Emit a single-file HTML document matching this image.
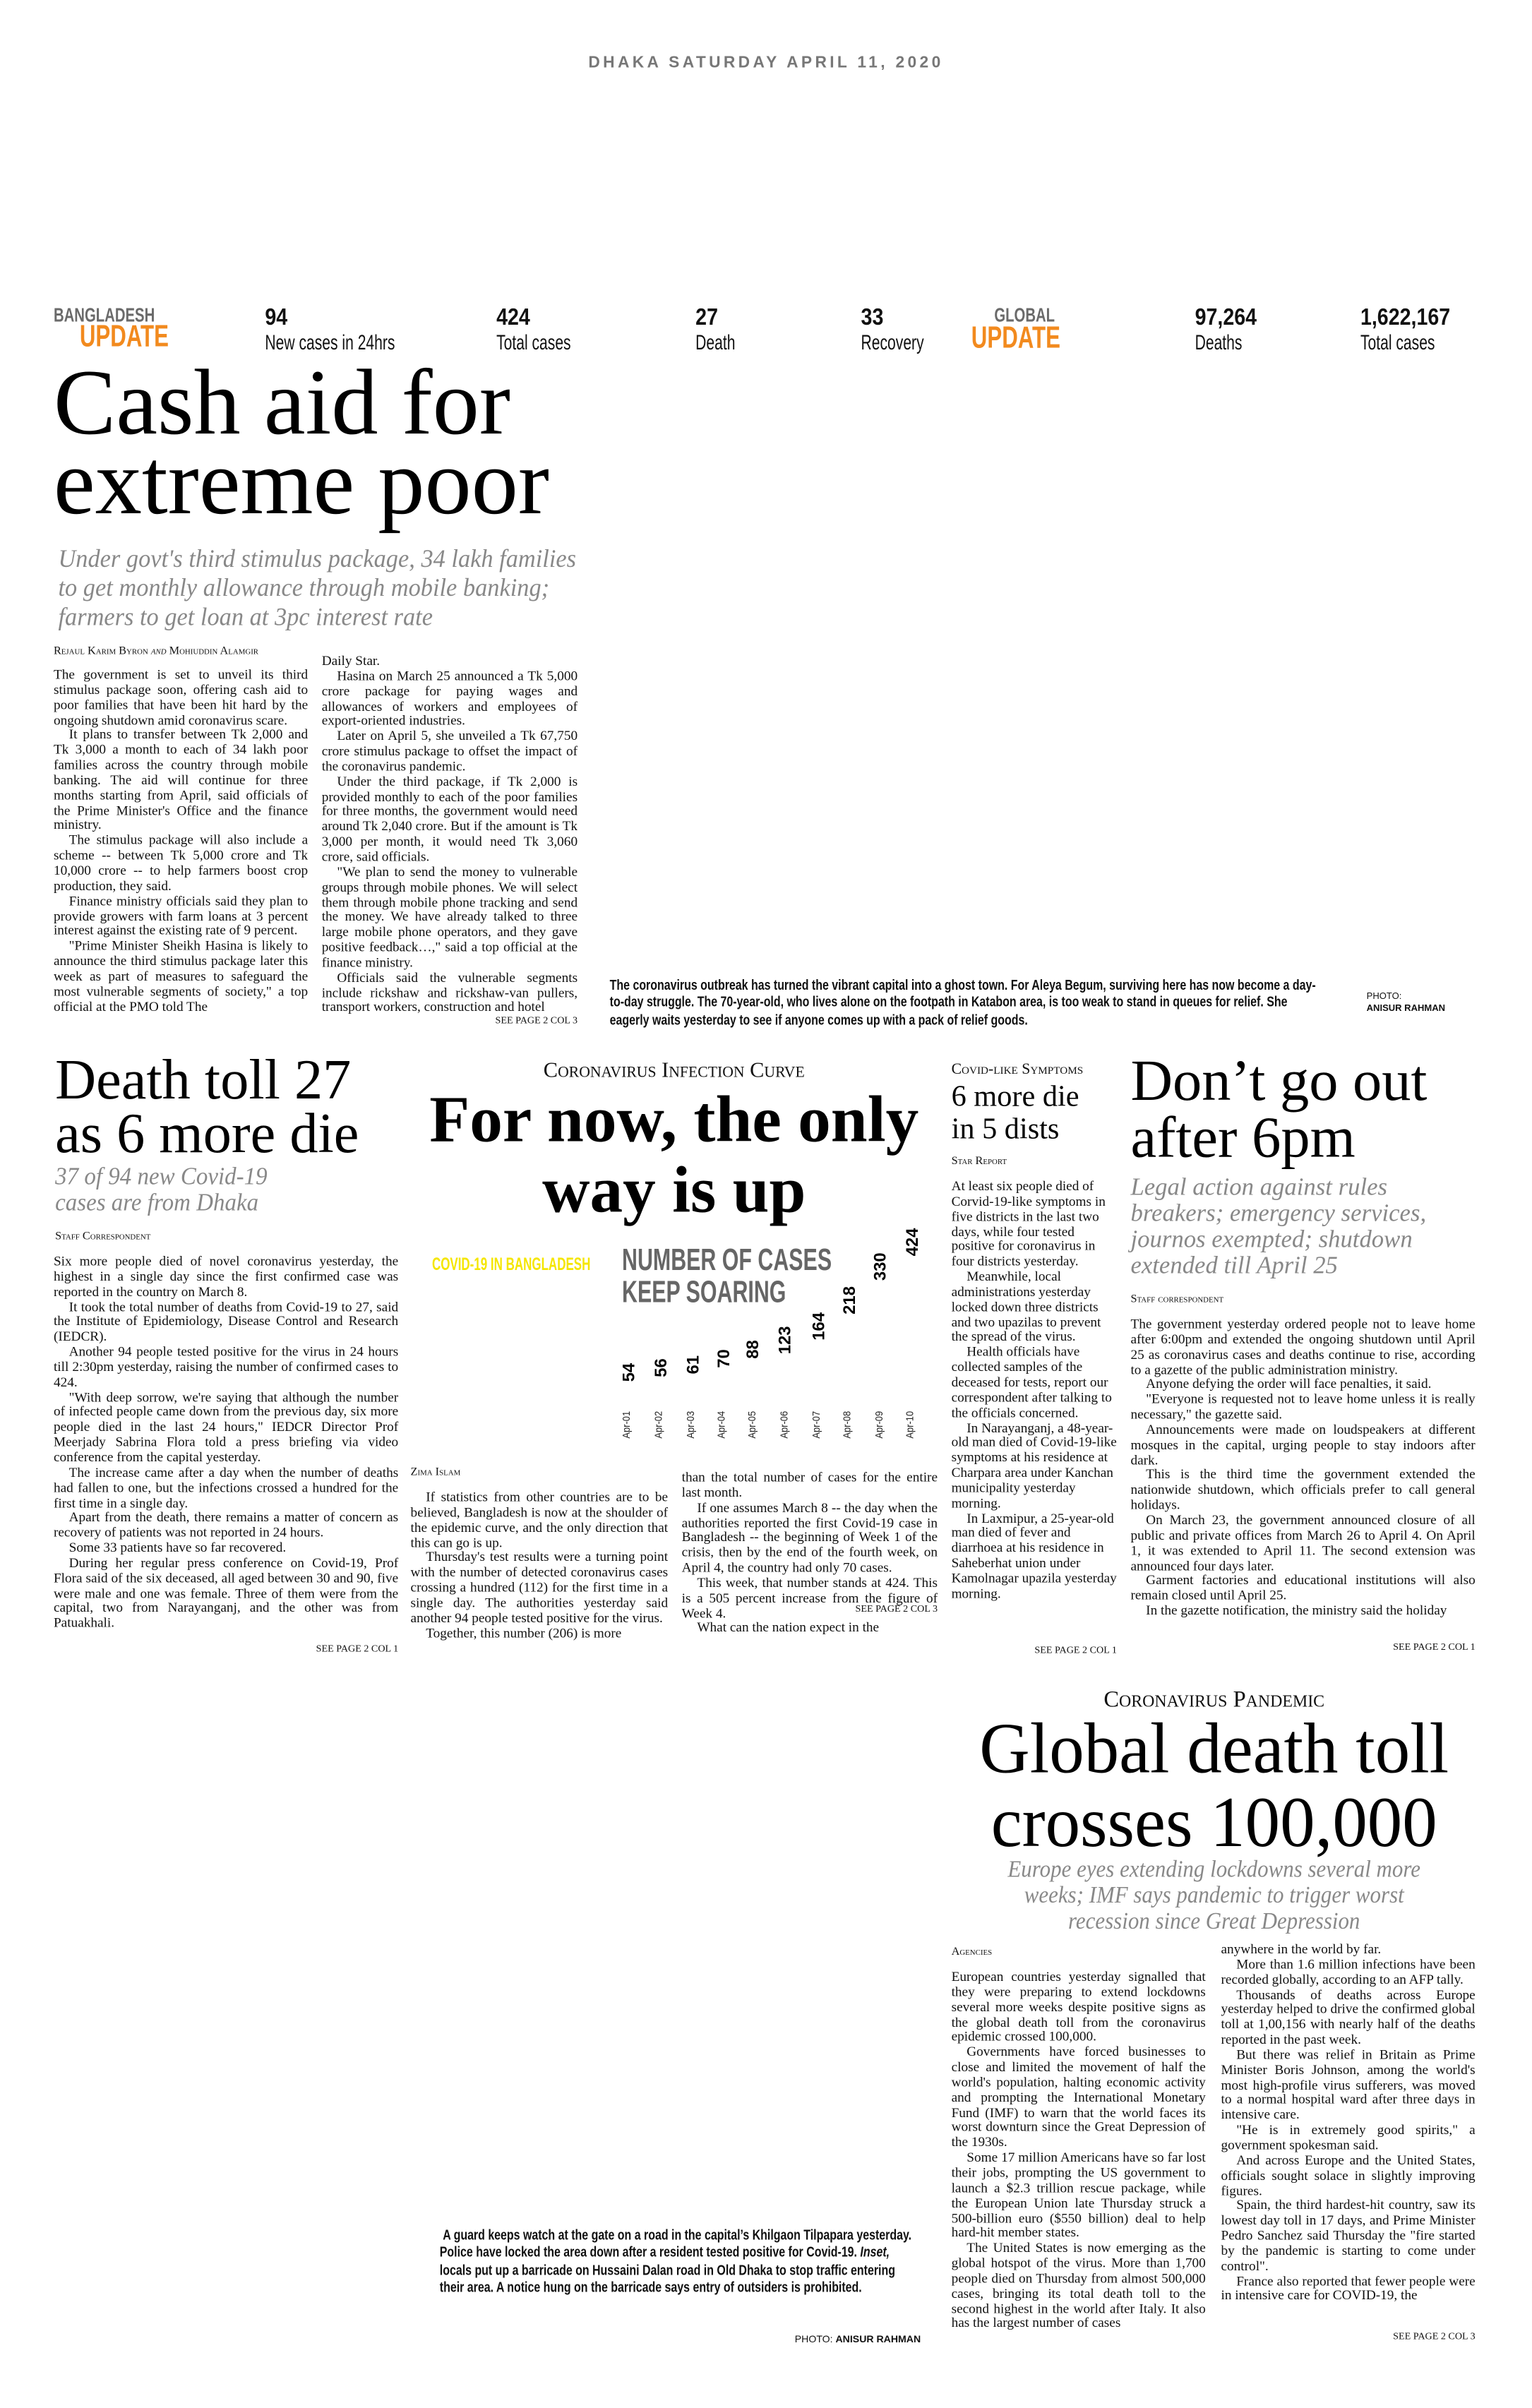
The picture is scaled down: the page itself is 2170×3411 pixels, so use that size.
<!DOCTYPE html>
<html><head><meta charset="utf-8">
<style>
html,body{margin:0;padding:0;background:#fff;}
body{width:2170px;height:3410px;overflow:hidden;position:relative;}
#pg{position:absolute;left:0;top:0;width:1000px;height:1572px;transform:scale(2.17);transform-origin:0 0;}
.a{position:absolute;}
.serif{font-family:"Liberation Serif",serif;}
.nar{font-family:"Liberation Sans",sans-serif;transform-origin:0 0;white-space:nowrap;}
.body{font-family:"Liberation Serif",serif;font-size:8.9px;line-height:9.85px;text-align:justify;color:#111;}
.body p{margin:0;text-indent:10px;}
.body p.f{text-indent:0;}
.sc{font-family:"Liberation Serif",serif;font-variant:small-caps;font-size:7.5px;color:#111;}
.see{font-family:"Liberation Serif",serif;font-size:6.5px;text-transform:uppercase;color:#111;text-align:right;}
.stn{font-family:"Liberation Sans",sans-serif;font-weight:bold;font-size:15.5px;color:#111;transform:scaleX(0.85);transform-origin:0 0;white-space:nowrap;}
.stl{font-family:"Liberation Sans",sans-serif;font-size:13.5px;color:#111;transform:scaleX(0.72);transform-origin:0 0;white-space:nowrap;}
.hl{font-family:"Liberation Serif",serif;color:#000;transform-origin:0 0;white-space:nowrap;}
.sub{font-family:"Liberation Serif",serif;font-style:italic;color:#888;transform-origin:0 0;white-space:nowrap;}
.cap{font-family:"Liberation Sans",sans-serif;font-weight:bold;font-size:9.2px;line-height:11.3px;color:#111;transform:scaleX(0.8);transform-origin:0 0;}
.num{position:absolute;font-family:"Liberation Sans",sans-serif;font-weight:bold;font-size:11px;transform:rotate(-90deg);transform-origin:0 0;white-space:nowrap;}
.apr{position:absolute;font-family:"Liberation Sans",sans-serif;font-size:7px;transform:rotate(-90deg) scaleX(0.85);transform-origin:0 0;white-space:nowrap;color:#222;}
</style></head><body><div id="pg">

<div class="a" style="left:0;width:1000px;top:35px;text-align:center;font-family:'Liberation Sans',sans-serif;font-size:10.5px;font-weight:bold;letter-spacing:2px;color:#777;">DHAKA SATURDAY APRIL 11, 2020</div>

<!-- stats -->
<div class="a nar" style="left:35px;top:198px;font-size:13px;font-weight:bold;color:#6a6a6a;transform:scaleX(0.72);">BANGLADESH</div>
<div class="a nar" style="left:52px;top:209px;font-size:20px;font-weight:bold;color:#f28a1e;transform:scaleX(0.72);">UPDATE</div>
<div class="a stn" style="left:173px;top:199px;">94</div><div class="a stl" style="left:173px;top:216px;">New cases in 24hrs</div>
<div class="a stn" style="left:324px;top:199px;">424</div><div class="a stl" style="left:324px;top:216px;">Total cases</div>
<div class="a stn" style="left:454px;top:199px;">27</div><div class="a stl" style="left:454px;top:216px;">Death</div>
<div class="a stn" style="left:562px;top:199px;">33</div><div class="a stl" style="left:562px;top:216px;">Recovery</div>
<div class="a nar" style="left:649px;top:198px;font-size:13px;font-weight:bold;color:#6a6a6a;transform:scaleX(0.72);">GLOBAL</div>
<div class="a nar" style="left:634px;top:210px;font-size:20px;font-weight:bold;color:#f28a1e;transform:scaleX(0.72);">UPDATE</div>
<div class="a stn" style="left:780px;top:199px;">97,264</div><div class="a stl" style="left:780px;top:216px;">Deaths</div>
<div class="a stn" style="left:888px;top:199px;">1,622,167</div><div class="a stl" style="left:888px;top:216px;">Total cases</div>

<!-- lead -->
<div class="a hl" style="left:35px;top:238px;font-size:61px;line-height:52px;">Cash aid for<br>extreme poor</div>
<div class="a sub" style="left:38px;top:355px;font-size:16.5px;line-height:19px;transform:scaleX(0.96);">Under govt's third stimulus package, 34 lakh families<br>to get monthly allowance through mobile banking;<br>farmers to get loan at 3pc interest rate</div>
<div class="a sc" style="left:35px;top:420px;">Rejaul Karim Byron <i>and</i> Mohiuddin Alamgir</div>
<div class="a body" style="left:35px;top:436px;width:166px;">
<p class="f">The government is set to unveil its third stimulus package soon, offering cash aid to poor families that have been hit hard by the ongoing shutdown amid coronavirus scare.</p>
<p>It plans to transfer between Tk 2,000 and Tk 3,000 a month to each of 34 lakh poor families across the country through mobile banking. The aid will continue for three months starting from April, said officials of the Prime Minister's Office and the finance ministry.</p>
<p>The stimulus package will also include a scheme -- between Tk 5,000 crore and Tk 10,000 crore -- to help farmers boost crop production, they said.</p>
<p>Finance ministry officials said they plan to provide growers with farm loans at 3 percent interest against the existing rate of 9 percent.</p>
<p>"Prime Minister Sheikh Hasina is likely to announce the third stimulus package later this week as part of measures to safeguard the most vulnerable segments of society," a top official at the PMO told The</p>
</div>
<div class="a body" style="left:210px;top:427px;width:167px;">
<p class="f">Daily Star.</p>
<p>Hasina on March 25 announced a Tk 5,000 crore package for paying wages and allowances of workers and employees of export-oriented industries.</p>
<p>Later on April 5, she unveiled a Tk 67,750 crore stimulus package to offset the impact of the coronavirus pandemic.</p>
<p>Under the third package, if Tk 2,000 is provided monthly to each of the poor families for three months, the government would need around Tk 2,040 crore. But if the amount is Tk 3,000 per month, it would need Tk 3,060 crore, said officials.</p>
<p>"We plan to send the money to vulnerable groups through mobile phones. We will select them through mobile phone tracking and send the money. We have already talked to three large mobile phone operators, and they gave positive feedback…," said a top official at the finance ministry.</p>
<p>Officials said the vulnerable segments include rickshaw and rickshaw-van pullers, transport workers, construction and hotel</p>
</div>
<div class="a see" style="left:210px;width:167px;top:663px;">See page 2 Col 3</div>

<div class="a cap" style="left:398px;top:638px;width:577px;">The coronavirus outbreak has turned the vibrant capital into a ghost town. For Aleya Begum, surviving here has now become a day-to-day struggle. The 70-year-old, who lives alone on the footpath in Katabon area, is too weak to stand in queues for relief. She eagerly waits yesterday to see if anyone comes up with a pack of relief goods.</div>
<div class="a nar" style="left:892px;top:647px;font-size:6px;line-height:8px;color:#111;">PHOTO:<br><b>ANISUR RAHMAN</b></div>

<!-- death toll -->
<div class="a hl" style="left:36px;top:688px;font-size:37px;line-height:35px;">Death toll 27<br>as 6 more die</div>
<div class="a sub" style="left:36px;top:760px;font-size:16px;line-height:17px;transform:scaleX(0.95);">37 of 94 new Covid-19<br>cases are from Dhaka</div>
<div class="a sc" style="left:36px;top:802px;">Staff Correspondent</div>
<div class="a body" style="left:35px;top:819px;width:225px;">
<p class="f">Six more people died of novel coronavirus yesterday, the highest in a single day since the first confirmed case was reported in the country on March 8.</p>
<p>It took the total number of deaths from Covid-19 to 27, said the Institute of Epidemiology, Disease Control and Research (IEDCR).</p>
<p>Another 94 people tested positive for the virus in 24 hours till 2:30pm yesterday, raising the number of confirmed cases to 424.</p>
<p>"With deep sorrow, we're saying that although the number of infected people came down from the previous day, six more people died in the last 24 hours," IEDCR Director Prof Meerjady Sabrina Flora told a press briefing via video conference from the capital yesterday.</p>
<p>The increase came after a day when the number of deaths had fallen to one, but the infections crossed a hundred for the first time in a single day.</p>
<p>Apart from the death, there remains a matter of concern as recovery of patients was not reported in 24 hours.</p>
<p>Some 33 patients have so far recovered.</p>
<p>During her regular press conference on Covid-19, Prof Flora said of the six deceased, all aged between 30 and 90, five were male and one was female. Three of them were from the capital, two from Narayanganj, and the other was from Patuakhali.</p>
</div>
<div class="a see" style="left:35px;width:225px;top:1073px;">See page 2 Col 1</div>

<!-- infection curve -->
<div class="a sc" style="left:270px;width:340px;top:692px;text-align:center;font-size:14px;">Coronavirus Infection Curve</div>
<div class="a serif" style="left:250px;width:380px;top:709px;text-align:center;font-size:43px;line-height:46px;font-weight:bold;white-space:nowrap;">For now, the only<br>way is up</div>
<div class="a nar" style="left:282px;top:820px;font-size:11.5px;font-weight:bold;color:#f5e600;transform:scaleX(0.68);">COVID-19 IN BANGLADESH</div>
<div class="a nar" style="left:406px;top:813px;font-size:20px;line-height:21px;font-weight:bold;color:#666;transform:scaleX(0.7);">NUMBER OF CASES<br>KEEP SOARING</div>
<div class="num" style="left:405px;top:902px;">54</div>
<div class="num" style="left:426px;top:899px;">56</div>
<div class="num" style="left:447px;top:897px;">61</div>
<div class="num" style="left:467px;top:893px;">70</div>
<div class="num" style="left:486px;top:887px;">88</div>
<div class="num" style="left:507px;top:884px;">123</div>
<div class="num" style="left:529px;top:875px;">164</div>
<div class="num" style="left:549px;top:858px;">218</div>
<div class="num" style="left:569px;top:836px;">330</div>
<div class="num" style="left:590px;top:820px;">424</div>
<div class="apr" style="left:406px;top:939px;">Apr-01</div>
<div class="apr" style="left:427px;top:939px;">Apr-02</div>
<div class="apr" style="left:448px;top:939px;">Apr-03</div>
<div class="apr" style="left:468px;top:939px;">Apr-04</div>
<div class="apr" style="left:488px;top:939px;">Apr-05</div>
<div class="apr" style="left:509px;top:939px;">Apr-06</div>
<div class="apr" style="left:530px;top:939px;">Apr-07</div>
<div class="apr" style="left:550px;top:939px;">Apr-08</div>
<div class="apr" style="left:571px;top:939px;">Apr-09</div>
<div class="apr" style="left:591px;top:939px;">Apr-10</div>
<div class="a sc" style="left:268px;top:956px;">Zima Islam</div>
<div class="a body" style="left:268px;top:973px;width:168px;">
<p>If statistics from other countries are to be believed, Bangladesh is now at the shoulder of the epidemic curve, and the only direction that this can go is up.</p>
<p>Thursday's test results were a turning point with the number of detected coronavirus cases crossing a hundred (112) for the first time in a single day. The authorities yesterday said another 94 people tested positive for the virus.</p>
<p>Together, this number (206) is more</p>
</div>
<div class="a body" style="left:445px;top:960px;width:167px;">
<p class="f">than the total number of cases for the entire last month.</p>
<p>If one assumes March 8 -- the day when the authorities reported the first Covid-19 case in Bangladesh -- the beginning of Week 1 of the crisis, then by the end of the fourth week, on April 4, the country had only 70 cases.</p>
<p>This week, that number stands at 424. This is a 505 percent increase from the figure of Week 4.</p>
<p>What can the nation expect in the</p>
</div>
<div class="a see" style="left:445px;width:167px;top:1047px;">See page 2 Col 3</div>

<!-- symptoms -->
<div class="a sc" style="left:621px;top:693px;font-size:10px;">Covid-like Symptoms</div>
<div class="a hl" style="left:621px;top:706px;font-size:19.5px;line-height:21px;">6 more die<br>in 5 dists</div>
<div class="a sc" style="left:621px;top:753px;">Star Report</div>
<div class="a body" style="left:621px;top:770px;width:108px;text-align:left;">
<p class="f">At least six people died of Corvid-19-like symptoms in five districts in the last two days, while four tested positive for coronavirus in four districts yesterday.</p>
<p>Meanwhile, local administrations yesterday locked down three districts and two upazilas to prevent the spread of the virus.</p>
<p>Health officials have collected samples of the deceased for tests, report our correspondent after talking to the officials concerned.</p>
<p>In Narayanganj, a 48-year-old man died of Covid-19-like symptoms at his residence at Charpara area under Kanchan municipality yesterday morning.</p>
<p>In Laxmipur, a 25-year-old man died of fever and diarrhoea at his residence in Saheberhat union under Kamolnagar upazila yesterday morning.</p>
</div>
<div class="a see" style="left:621px;width:108px;top:1074px;">See page 2 Col 1</div>

<!-- don't go out -->
<div class="a hl" style="left:738px;top:688px;font-size:38px;line-height:37px;">Don’t go out<br>after 6pm</div>
<div class="a sub" style="left:738px;top:767px;font-size:16px;line-height:17px;">Legal action against rules<br>breakers; emergency services,<br>journos exempted; shutdown<br>extended till April 25</div>
<div class="a sc" style="left:738px;top:843px;">Staff correspondent</div>
<div class="a body" style="left:738px;top:860px;width:225px;">
<p class="f">The government yesterday ordered people not to leave home after 6:00pm and extended the ongoing shutdown until April 25 as coronavirus cases and deaths continue to rise, according to a gazette of the public administration ministry.</p>
<p>Anyone defying the order will face penalties, it said.</p>
<p>"Everyone is requested not to leave home unless it is really necessary," the gazette said.</p>
<p>Announcements were made on loudspeakers at different mosques in the capital, urging people to stay indoors after dark.</p>
<p>This is the third time the government extended the nationwide shutdown, which officials prefer to call general holidays.</p>
<p>On March 23, the government announced closure of all public and private offices from March 26 to April 4. On April 1, it was extended to April 11. The second extension was announced four days later.</p>
<p>Garment factories and educational institutions will also remain closed until April 25.</p>
<p>In the gazette notification, the ministry said the holiday</p>
</div>
<div class="a see" style="left:738px;width:225px;top:1072px;">See page 2 Col 1</div>

<!-- global -->
<div class="a sc" style="left:620px;width:345px;top:1102px;text-align:center;font-size:15px;">Coronavirus Pandemic</div>
<div class="a serif" style="left:580px;width:425px;top:1118px;text-align:center;font-size:47px;line-height:48px;transform:scaleX(0.97);transform-origin:50% 0;white-space:nowrap;">Global death toll<br>crosses 100,000</div>
<div class="a serif" style="left:600px;width:385px;top:1212px;text-align:center;font-size:15.5px;line-height:17px;font-style:italic;color:#888;transform:scaleX(0.92);transform-origin:50% 0;white-space:nowrap;">Europe eyes extending lockdowns several more<br>weeks; IMF says pandemic to trigger worst<br>recession since Great Depression</div>
<div class="a sc" style="left:621px;top:1269px;">Agencies</div>
<div class="a body" style="left:621px;top:1286px;width:166px;">
<p class="f">European countries yesterday signalled that they were preparing to extend lockdowns several more weeks despite positive signs as the global death toll from the coronavirus epidemic crossed 100,000.</p>
<p>Governments have forced businesses to close and limited the movement of half the world's population, halting economic activity and prompting the International Monetary Fund (IMF) to warn that the world faces its worst downturn since the Great Depression of the 1930s.</p>
<p>Some 17 million Americans have so far lost their jobs, prompting the US government to launch a $2.3 trillion rescue package, while the European Union late Thursday struck a 500-billion euro ($550 billion) deal to help hard-hit member states.</p>
<p>The United States is now emerging as the global hotspot of the virus. More than 1,700 people died on Thursday from almost 500,000 cases, bringing its total death toll to the second highest in the world after Italy. It also has the largest number of cases</p>
</div>
<div class="a body" style="left:797px;top:1268px;width:166px;">
<p class="f">anywhere in the world by far.</p>
<p>More than 1.6 million infections have been recorded globally, according to an AFP tally.</p>
<p>Thousands of deaths across Europe yesterday helped to drive the confirmed global toll at 1,00,156 with nearly half of the deaths reported in the past week.</p>
<p>But there was relief in Britain as Prime Minister Boris Johnson, among the world's most high-profile virus sufferers, was moved to a normal hospital ward after three days in intensive care.</p>
<p>"He is in extremely good spirits," a government spokesman said.</p>
<p>And across Europe and the United States, officials sought solace in slightly improving figures.</p>
<p>Spain, the third hardest-hit country, saw its lowest day toll in 17 days, and Prime Minister Pedro Sanchez said Thursday the "fire started by the pandemic is starting to come under control".</p>
<p>France also reported that fewer people were in intensive care for COVID-19, the</p>
</div>
<div class="a see" style="left:797px;width:166px;top:1522px;">See page 2 Col 3</div>

<div class="a cap" style="left:287px;top:1454px;width:394px;">&nbsp;A guard keeps watch at the gate on a road in the capital’s Khilgaon Tilpapara yesterday. Police have locked the area down after a resident tested positive for Covid-19. <i>Inset,</i> locals put up a barricade on Hussaini Dalan road in Old Dhaka to stop traffic entering their area. A notice hung on the barricade says entry of outsiders is prohibited.</div>
<div class="a" style="left:400px;width:201px;top:1524px;text-align:right;font-family:'Liberation Sans',sans-serif;font-size:6.5px;color:#111;">PHOTO: <b>ANISUR RAHMAN</b></div>

</div></body></html>
